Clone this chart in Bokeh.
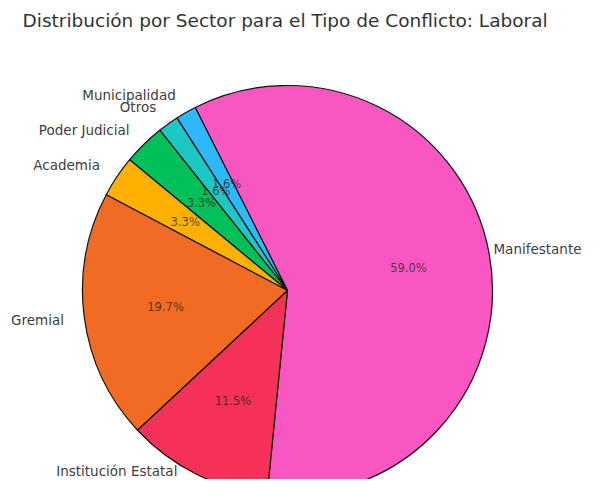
import math
from bokeh.plotting import figure
from bokeh.models import ColumnDataSource, Range1d, Label
from bokeh.core.properties import value, field
from bokeh.embed import file_html
from bokeh.resources import INLINE

# Data
sectors = ["Manifestante", "Municipalidad", "Otros", "Poder Judicial",
           "Academia", "Gremial", "Institución Estatal"]
counts = [36, 1, 1, 2, 2, 12, 7]
colors = ["#F857C1", "#2DB9F8", "#1DC7C4", "#00C05A",
          "#FFB000", "#F26B22", "#F43158"]
title_text = "Distribución por Sector para el Tipo de Conflicto: Laboral"

start_deg = -95.7
total = sum(counts)
starts, ends, mids, pcts = [], [], [], []
a = math.radians(start_deg)
for c in counts:
    span = 2 * math.pi * c / total
    starts.append(a)
    ends.append(a + span)
    mids.append(a + span / 2)
    pcts.append("%1.1f%%" % (100.0 * c / total))
    a += span

W, H = 583, 479
R = 205.0  # px per unit
cx, cy = 287.0, 290.0  # pie centre in canvas px (from top-left)
LABEL_FS = 13.5

p = figure(width=W, height=H, output_backend="svg", toolbar_location=None,
           min_border=0, x_range=Range1d(-cx / R, (W - cx) / R),
           y_range=Range1d(-(H - cy) / R, cy / R))
p.axis.visible = False
p.grid.visible = False
p.outline_line_color = None
p.background_fill_color = "white"
p.border_fill_color = "white"

src = ColumnDataSource(dict(start=starts, end=ends, color=colors, sector=sectors))
p.wedge(x=0, y=0, radius=1.0, start_angle="start", end_angle="end",
        fill_color="color", line_color="#111111", line_width=1.2, source=src)

lx, ly, align = [], [], []
for name, m in zip(sectors, mids):
    x = 1.1 * math.cos(m)
    y = 1.1 * math.sin(m)
    al = "left" if x > 0 else "right"
    # keep labels inside the canvas
    est_w = len(name) * 0.55 * LABEL_FS / R
    if al == "left" and x + est_w > (W - cx - 2) / R:
        x = (W - cx - 2) / R
        al = "right"
    ymin = -(H - cy - 9) / R
    if y < ymin:
        y = ymin
        x -= 10 / R  # keep clear of the pie edge
    lx.append(x); ly.append(y); align.append(al)
lsrc = ColumnDataSource(dict(x=lx, y=ly, t=sectors, align=align))
p.text(x="x", y="y", text="t", text_align=field("align"), text_baseline="middle",
       text_font=value("DejaVu Sans"), text_font_size=f"{LABEL_FS}px", text_color="#3d3d3d",
       source=lsrc)

px = [0.6 * math.cos(m) for m in mids]
py = [0.6 * math.sin(m) for m in mids]
psrc = ColumnDataSource(dict(x=px, y=py, t=pcts))
p.text(x="x", y="y", text="t", text_align="center", text_baseline="middle",
       text_font=value("DejaVu Sans"), text_font_size="11.5px", text_color="#222222",
       text_alpha=0.75, source=psrc)

p.add_layout(Label(x=22, y=H - 20, x_units="screen", y_units="screen", text=title_text,
                   text_font="DejaVu Sans", text_font_size="18.5px", text_color="#333333",
                   text_baseline="middle", text_align="left"))

open("out.html", "w").write(file_html(p, INLINE))
